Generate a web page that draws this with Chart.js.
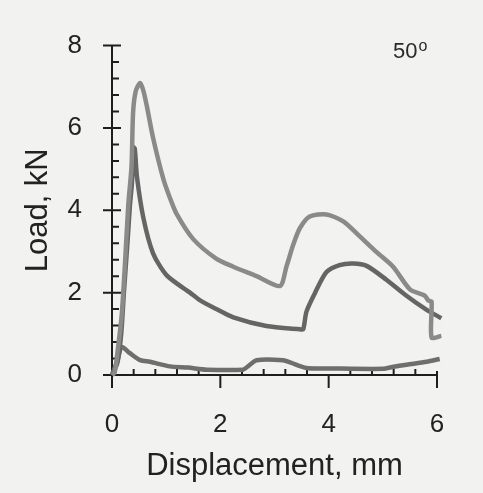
<!DOCTYPE html>
<html>
<head>
<meta charset="utf-8">
<script src="https://cdn.jsdelivr.net/npm/chart.js@4"></script>
<style>
  html, body { margin: 0; padding: 0; background: #f2f2f0; }
  #loadChart { display: block; }
</style>
</head>
<body>
<canvas id="loadChart" width="483" height="493"></canvas>
<script>
// displacement (mm) / load (kN)
const upperX = [0.0, 0.05, 0.12, 0.18, 0.24, 0.30, 0.36, 0.39, 0.44, 0.52, 0.58, 0.64, 0.76, 0.95, 1.07, 1.19, 1.5, 1.93, 2.24, 2.67, 3.1, 3.22, 3.35, 3.47, 3.65, 3.96, 4.27, 4.58, 4.88, 5.19, 5.5, 5.77, 5.84, 5.9, 5.9, 6.08];
const upperY = [0.0, 0.06, 0.76, 1.47, 2.71, 4.12, 5.06, 6.39, 6.9, 7.09, 6.9, 6.55, 5.75, 4.75, 4.3, 3.92, 3.3, 2.82, 2.63, 2.4, 2.16, 2.63, 3.18, 3.57, 3.85, 3.9, 3.73, 3.36, 2.99, 2.63, 2.08, 1.93, 1.81, 1.78, 0.91, 0.95];

const middleX = [0.0, 0.1, 0.17, 0.22, 0.29, 0.33, 0.37, 0.39, 0.42, 0.46, 0.58, 0.76, 1.01, 1.44, 1.62, 1.93, 2.24, 2.85, 3.47, 3.53, 3.59, 3.75, 3.96, 4.2, 4.45, 4.7, 5.06, 5.43, 5.81, 6.08];
const middleY = [0.0, 0.3, 1.0, 2.0, 3.3, 4.1, 4.7, 5.53, 5.5, 4.82, 3.81, 2.95, 2.42, 2.0, 1.82, 1.6, 1.4, 1.19, 1.11, 1.11, 1.54, 2.0, 2.5, 2.67, 2.71, 2.65, 2.32, 1.93, 1.58, 1.38];

const lowerX = [0.0, 0.1, 0.18, 0.33, 0.52, 0.7, 1.07, 1.4, 1.75, 2.42, 2.5, 2.67, 3.16, 3.3, 3.59, 4.0, 5.0, 5.2, 5.44, 5.81, 6.05];
const lowerY = [0.0, 0.35, 0.68, 0.53, 0.36, 0.32, 0.21, 0.18, 0.13, 0.13, 0.2, 0.36, 0.36, 0.3, 0.17, 0.16, 0.15, 0.2, 0.25, 0.32, 0.39];

const xTicks = [0, 2, 4, 6];
const yTicks = [0, 2, 4, 6, 8];
const minorStep = 0.4;
const angleLabel = '50';

const toPoints = (xs, ys) => xs.map((x, i) => ({ x: x, y: ys[i] }));

function lineSet(xs, ys, color) {
    return {
        data: toPoints(xs, ys),
        borderColor: color,
        borderWidth: 4.5,
        pointRadius: 0,
        tension: 0.25,
        clip: false
    };
}

// black axes with crossing major ticks and inside minor ticks
const axesPlugin = {
    id: 'axesPlugin',
    beforeDatasetsDraw(chart) {
        const ctx = chart.ctx;
        const xs = chart.scales.x, ys = chart.scales.y;
        const x0 = xs.getPixelForValue(0), x6 = xs.getPixelForValue(6);
        const y0 = ys.getPixelForValue(0), y8 = ys.getPixelForValue(8);
        ctx.save();
        ctx.strokeStyle = '#1e1e1e';
        ctx.lineWidth = 2;
        ctx.beginPath();
        ctx.moveTo(x0, y0); ctx.lineTo(x0, y8);
        ctx.moveTo(x0 - 9, y0); ctx.lineTo(x6, y0);
        for (let v = 0; v <= 8.001; v += minorStep) {
            const py = ys.getPixelForValue(v);
            const major = Math.abs(v / 2 - Math.round(v / 2)) < 0.01;
            if (major) { ctx.moveTo(x0 - 9, py); ctx.lineTo(x0 + 9, py); }
            else { ctx.moveTo(x0, py); ctx.lineTo(x0 + 7, py); }
        }
        for (let v = 0; v <= 6.001; v += minorStep) {
            const px = xs.getPixelForValue(v);
            const major = Math.abs(v / 2 - Math.round(v / 2)) < 0.01;
            if (major) { ctx.moveTo(px, y0 - (v > 5 ? 4 : 0)); ctx.lineTo(px, y0 + 13); }
            else { ctx.moveTo(px, y0); ctx.lineTo(px, y0 - 6); }
        }
        ctx.stroke();
        ctx.restore();
    },
    afterDraw(chart) {
        const ctx = chart.ctx;
        ctx.save();
        ctx.fillStyle = '#2a2a2a';
        ctx.textBaseline = 'alphabetic';
        ctx.font = '22px "Liberation Sans", Arial, sans-serif';
        ctx.fillText(angleLabel, 393, 58);
        const w = ctx.measureText(angleLabel).width;
        ctx.font = '16px "Liberation Sans", Arial, sans-serif';
        ctx.fillText('o', 393 + w + 1, 51);
        ctx.restore();
    }
};

const tickFont = { family: '"Liberation Sans", Arial, sans-serif', size: 26 };
const titleFont = { family: '"Liberation Sans", Arial, sans-serif', size: 31 };

new Chart('loadChart', {
    type: 'line',
    data: {
        datasets: [
            lineSet(upperX, upperY, '#8a8a8a'),
            lineSet(middleX, middleY, '#656565'),
            lineSet(lowerX, lowerY, '#6e6e6e')
        ]
    },
    options: {
        responsive: false,
        animation: false,
        layout: { padding: { top: 35, right: 46, left: 0, bottom: 0 } },
        plugins: { legend: { display: false }, tooltip: { enabled: false } },
        scales: {
            x: {
                type: 'linear',
                min: 0,
                max: 6,
                afterFit: (s) => { s.height = 118; },
                afterBuildTicks: (s) => { s.ticks = xTicks.map(v => ({ value: v })); },
                grid: { display: false, drawTicks: false },
                border: { display: false },
                ticks: { color: '#222', font: tickFont, padding: 34, maxRotation: 0 },
                title: { display: true, text: 'Displacement, mm', color: '#222', font: titleFont, padding: { top: 0, bottom: 8 } }
            },
            y: {
                type: 'linear',
                min: 0,
                max: 8,
                afterFit: (s) => { s.width = 112; },
                afterBuildTicks: (s) => { s.ticks = yTicks.map(v => ({ value: v })); },
                grid: { display: false, drawTicks: false },
                border: { display: false },
                ticks: { color: '#222', font: tickFont, padding: 30 },
                title: { display: true, text: 'Load, kN', color: '#222', font: titleFont, padding: { top: 20, bottom: 0 } }
            }
        }
    },
    plugins: [axesPlugin]
});
</script>
</body>
</html>
